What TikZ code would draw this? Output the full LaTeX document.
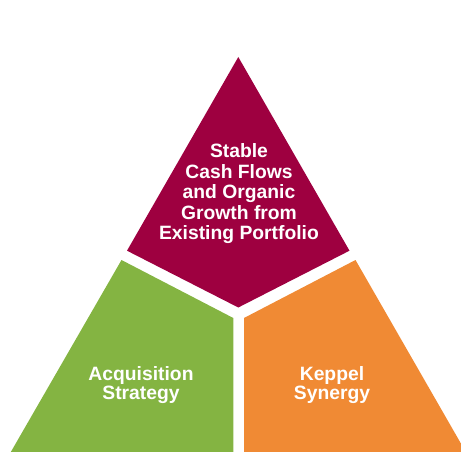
\documentclass[tikz,border=0pt]{standalone}
\usepackage{fontspec}
\setmainfont{Liberation Sans}
\definecolor{maroon}{RGB}{158,0,64}
\definecolor{leafgreen}{RGB}{132,180,66}
\definecolor{pyrorange}{RGB}{240,138,52}
\tikzset{
  seg/.style={draw=none},
  lbl/.style={text=white, font=\bfseries\fontsize{19.3}{20.5}\selectfont, align=center, inner sep=0pt},
  lblb/.style={lbl, font=\bfseries\fontsize{19.3}{18.3}\selectfont}
}
\begin{document}
\begin{tikzpicture}[x=1pt,y=-1pt]
\useasboundingbox (0,0) rectangle (461,452);
\clip (0,0) rectangle (461,452);
\fill[maroon] (238.3,57) -- (349.5,250.7) -- (238.3,307.5) -- (127,250.7) -- cycle;
\fill[leafgreen] (121.5,260) -- (233.3,318) -- (233.3,460) -- (6.2,460) -- cycle;
\fill[pyrorange] (355.5,260) -- (244,318) -- (244,460) -- (470.4,460) -- cycle;
\node[lbl] (top) at (239,194) {Stable\\Cash Flows\\and Organic\\Growth from\\Existing Portfolio};
\node[lblb] (acq) at (141,385) {Acquisition\\Strategy};
\node[lblb] (kep) at (332,385) {Keppel\\Synergy};
\end{tikzpicture}
\end{document}
